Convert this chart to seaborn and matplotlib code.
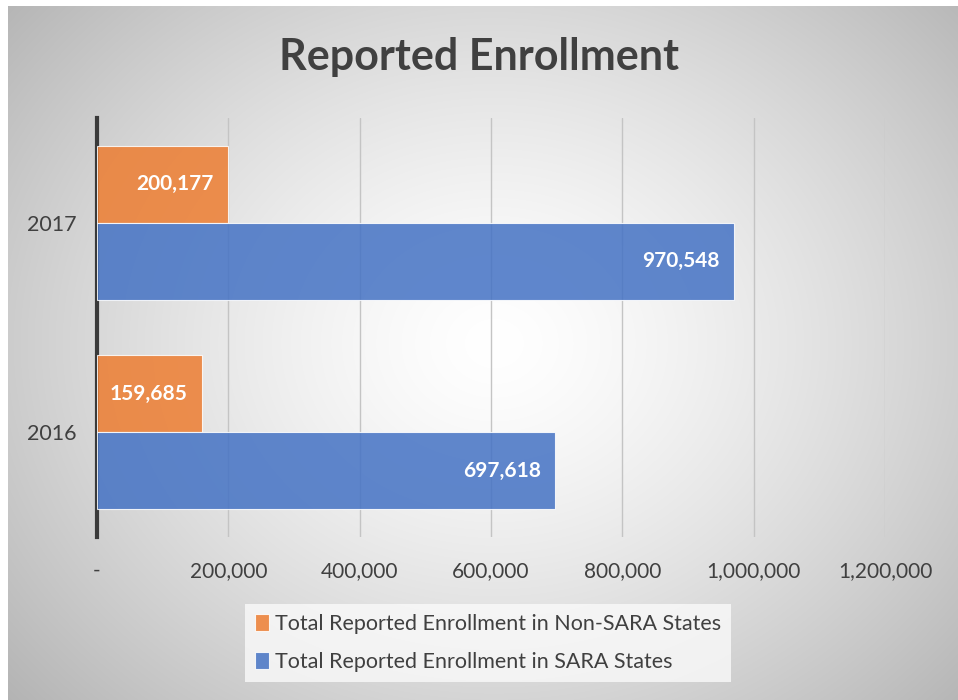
import numpy as np
import pandas as pd
import matplotlib
matplotlib.use("Agg")
import matplotlib.pyplot as plt
import seaborn as sns
from matplotlib.ticker import FuncFormatter

# data
years = ["2017", "2016"]
non_sara = [200177, 159685]
sara = [970548, 697618]
series_names = ["Total Reported Enrollment in Non-SARA States",
                "Total Reported Enrollment in SARA States"]
colors = ["#ED7D31", "#4472C4"]

df = pd.DataFrame({
    "Year": years * 2,
    "Enrollment": non_sara + sara,
    "Series": [series_names[0]] * 2 + [series_names[1]] * 2,
})

sns.set_theme(style="white")
plt.rcParams["font.family"] = ["Lato", "DejaVu Sans"]

W, H = 958, 700
fig = plt.figure(figsize=(W / 100, H / 100), dpi=100)

# radial gradient background
bg = fig.add_axes([0, 0, 1, 1], zorder=-5)
bg.set_xlim(0, W)
bg.set_ylim(H, 0)
bg.axis("off")
yy, xx = np.mgrid[0:H, 0:W]
r = np.sqrt(((xx - 490) / 560.0) ** 2 + ((yy - 340) / 470.0) ** 2)
shade = 1.0 - 0.24 * np.clip(r, 0, 1.25) ** 1.4
img = np.dstack([shade, shade, shade])
bg.imshow(img, extent=[8, W, H, 6], aspect="auto", interpolation="bilinear")

ax = fig.add_axes([97 / W, 1 - 537 / H, (885 - 97) / W, (537 - 118) / H])
ax.set_facecolor("none")

sns.barplot(data=df, y="Year", x="Enrollment", hue="Series", order=years,
            hue_order=series_names, palette=colors, saturation=1, orient="h",
            width=0.735, alpha=0.85, edgecolor="white", linewidth=0.8, ax=ax,
            zorder=3)

ax.set_xlim(0, 1200000)
ax.set_ylim(1.5, -0.5)
ax.set_xticks(np.arange(0, 1200001, 200000))
ax.xaxis.set_major_formatter(FuncFormatter(lambda v, p: "-" if v == 0 else f"{v:,.0f}"))
ax.grid(axis="x", color="#c4c4c4", linewidth=1, zorder=0)
ax.grid(axis="y", visible=False)
ax.set_axisbelow(True)
for s in ["top", "right", "bottom"]:
    ax.spines[s].set_visible(False)
ax.spines["left"].set_color("#3a3a3a")
ax.spines["left"].set_linewidth(3)
ax.tick_params(axis="both", length=0, labelsize=15, labelcolor="#404040")
ax.tick_params(axis="y", pad=15, labelsize=15.5)
ax.tick_params(axis="x", pad=17)
ax.set_xlabel("")
ax.set_ylabel("")

# value labels inside bar ends
for cont in ax.containers:
    for p in cont:
        w = p.get_width()
        ax.text(w - 22000, p.get_y() + p.get_height() / 2, f"{w:,.0f}",
                ha="right", va="center", color="white", fontsize=15,
                fontweight="bold", zorder=5)

fig.text(0.5, 1 - 57 / H, "Reported Enrollment", ha="center", va="center",
         fontsize=31, fontweight="bold", color="#404040")

handles, labels = ax.get_legend_handles_labels()
ax.get_legend().remove()
leg = fig.legend(handles, labels, loc="center", bbox_to_anchor=(488 / W, 1 - 643 / H),
                 ncol=1, frameon=True, fontsize=15.5, handlelength=0.65,
                 handleheight=0.85, handletextpad=0.3, labelspacing=0.85,
                 borderpad=0.45, fancybox=False)
leg.get_frame().set_facecolor("#fafafa")
leg.get_frame().set_alpha(0.8)
leg.get_frame().set_edgecolor("none")
for t in leg.get_texts():
    t.set_color("#404040")

fig.savefig("out.png", dpi=100)
